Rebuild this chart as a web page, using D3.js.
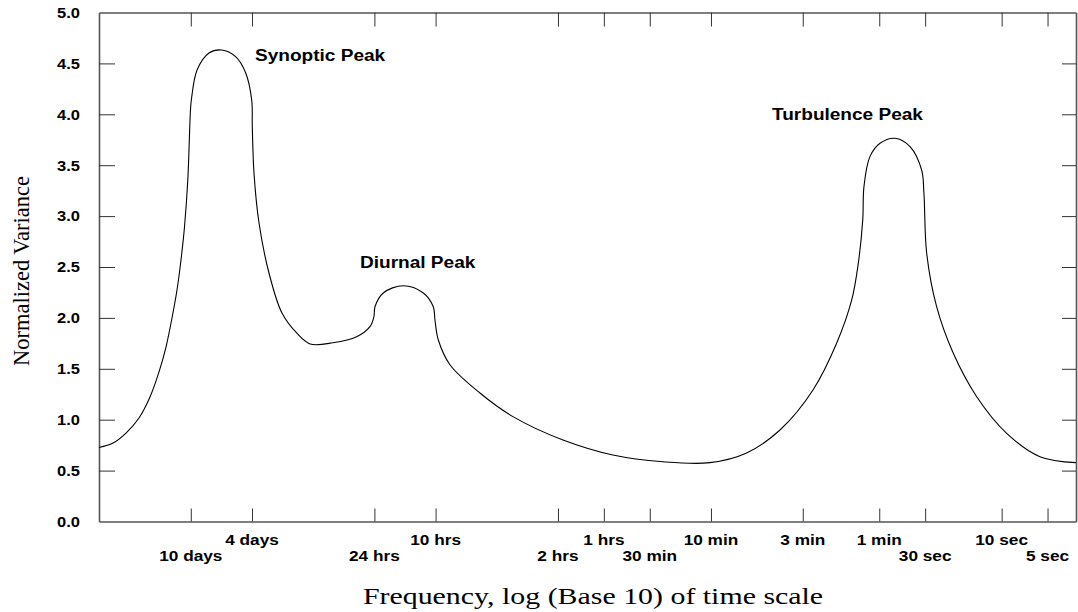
<!DOCTYPE html>
<html>
<head>
<meta charset="utf-8">
<script src="https://cdn.jsdelivr.net/npm/d3@7"></script>
<style>
  body { margin: 0; background: #fff; }
  svg { display: block; }
</style>
</head>
<body>
<svg id="chart" width="1078" height="612"></svg>
<script>
// position along the (hand drawn) time scale axis, in axis units
var axisPos = [0, 0.915, 1.765, 2.614, 3.333, 3.922, 4.379, 4.771, 5.098, 5.359, 5.588, 5.804, 5.99, 6.06,
    6.41, 7.19, 8.02, 8.93, 9.59, 9.98,
    10.02, 10.13, 10.46, 11.11, 11.96, 12.92, 13.80, 15.29, 16.84, 17.71, 17.97, 18.04, 18.58, 19.89,
    21.2, 21.85, 21.96, 22.18, 22.94, 24.90, 27.06, 30.33, 33.59, 36.86, 39.93, 42.33, 44.51, 46.67,
    48.22, 49.2, 49.63, 49.92, 50.0, 50.39, 51.05, 52.03, 53.01, 53.77, 53.92, 54.1, 54.75, 55.84,
    57.37, 59.33, 61.5, 63.86];
var variance = [0.727, 0.771, 0.869, 1.017, 1.223, 1.469, 1.714, 1.999, 2.274, 2.569, 2.893, 3.355, 4.07, 4.17,
    4.435, 4.602, 4.632, 4.566, 4.406, 4.14,
    3.878, 3.423, 2.932, 2.441, 2.048, 1.852, 1.744, 1.756, 1.815, 1.914, 2.012,
    2.11, 2.245, 2.316, 2.245, 2.11, 1.979, 1.783, 1.54, 1.262, 1.03, 0.80, 0.653, 0.587, 0.578, 0.673,
    0.899, 1.292, 1.753, 2.176, 2.536, 2.962, 3.289, 3.584, 3.715, 3.764, 3.682, 3.453, 3.224, 2.635,
    2.11, 1.652, 1.226, 0.866, 0.637, 0.578];

var tickPos = [6, 10, 18, 22, 30, 33, 36, 40, 46, 51, 54, 59, 62];
var tickLabels = ["10 days", "4 days", "24 hrs", "10 hrs", "2 hrs", "1 hrs", "30 min", "10 min",
    "3 min", "1 min", "30 sec", "10 sec", "5 sec"];
var tickRow = [1, 0, 1, 0, 1, 0, 1, 0, 0, 0, 1, 0, 1];

var yTicks = [0, 0.5, 1, 1.5, 2, 2.5, 3, 3.5, 4, 4.5, 5];

var peakNames = ["Synoptic Peak", "Diurnal Peak", "Turbulence Peak"];
var peakX = [10.2, 17.06, 43.99];
var peakY = [4.52, 2.49, 3.94];

var svg = d3.select("#chart");
// note: "top" is taken by window.top, so use plot* names
var plotLeft = 99, plotRight = 1076, plotTop = 12.5, plotBottom = 521.5;

var x = d3.scaleLinear().domain([0, 63.86]).range([plotLeft, plotRight]);
var y = d3.scaleLinear().domain([0, 5]).range([plotBottom, plotTop]);

// axes on all four sides, ticks pointing inward
var axisColor = "#555";
function styleAxis(g) {
    g.select(".domain").attr("stroke", axisColor).attr("stroke-width", 1.6);
    g.selectAll(".tick line").attr("stroke", "#333").attr("stroke-width", 1);
}

svg.append("g")
    .attr("transform", "translate(0," + plotBottom + ")")
    .call(d3.axisBottom(x).tickValues(tickPos).tickFormat("").tickSize(-13).tickSizeOuter(0))
    .call(styleAxis);
svg.append("g")
    .attr("transform", "translate(0," + plotTop + ")")
    .call(d3.axisTop(x).tickValues(tickPos).tickFormat("").tickSize(-14).tickSizeOuter(0))
    .call(styleAxis);
svg.append("g")
    .attr("transform", "translate(" + plotRight + ",0)")
    .call(d3.axisRight(y).tickValues(yTicks.slice(1, -1)).tickFormat("").tickSize(-14).tickSizeOuter(0))
    .call(styleAxis);

var yAxis = svg.append("g")
    .attr("transform", "translate(" + plotLeft + ",0)")
    .call(d3.axisLeft(y).tickValues(yTicks).tickFormat(d3.format(".1f")).tickSize(-16).tickSizeOuter(0).tickPadding(19))
    .call(styleAxis);
yAxis.selectAll(".tick line").filter(function (d) { return d === 0 || d === 5; }).remove();
yAxis.selectAll(".tick text")
    .attr("fill", "#000")
    .style("font-family", "'Liberation Sans', Arial, sans-serif")
    .style("font-weight", "bold")
    .style("font-size", "15px")
    .attr("transform", "scale(1.1,1)")
    .attr("x", -19 / 1.1);

// two staggered rows of time scale labels
svg.append("g").selectAll("text")
    .data(tickLabels)
    .join("text")
    .attr("transform", function (d, i) {
        return "translate(" + x(tickPos[i]) + "," + (tickRow[i] ? 561 : 545) + ") scale(1.15,1)";
    })
    .attr("text-anchor", "middle")
    .style("font-family", "'Liberation Sans', Arial, sans-serif")
    .style("font-weight", "bold")
    .style("font-size", "15px")
    .text(function (d) { return d; });

// the spectrum
var line = d3.line()
    .x(function (d) { return x(d); })
    .y(function (d, i) { return y(variance[i]); })
    .curve(d3.curveCatmullRom.alpha(0.5));

svg.append("path")
    .attr("d", line(axisPos))
    .attr("fill", "none")
    .attr("stroke", "#000")
    .attr("stroke-width", 1.1);

svg.append("g").selectAll("text")
    .data(peakNames)
    .join("text")
    .attr("transform", function (d, i) {
        return "translate(" + x(peakX[i]) + "," + y(peakY[i]) + ") scale(1.19,1)";
    })
    .style("font-family", "'Liberation Sans', Arial, sans-serif")
    .style("font-weight", "bold")
    .style("font-size", "16px")
    .text(function (d) { return d; });

// axis titles
svg.append("text")
    .attr("transform", "translate(29,271) rotate(-90)")
    .attr("text-anchor", "middle")
    .style("font-family", "'Liberation Serif', 'Times New Roman', serif")
    .style("font-size", "22.5px")
    .text("Normalized Variance");

svg.append("text")
    .attr("transform", "translate(593,604) scale(1.3,1)")
    .attr("text-anchor", "middle")
    .style("font-family", "'Liberation Serif', 'Times New Roman', serif")
    .style("font-size", "23px")
    .text("Frequency, log (Base 10) of time scale");
</script>
</body>
</html>
